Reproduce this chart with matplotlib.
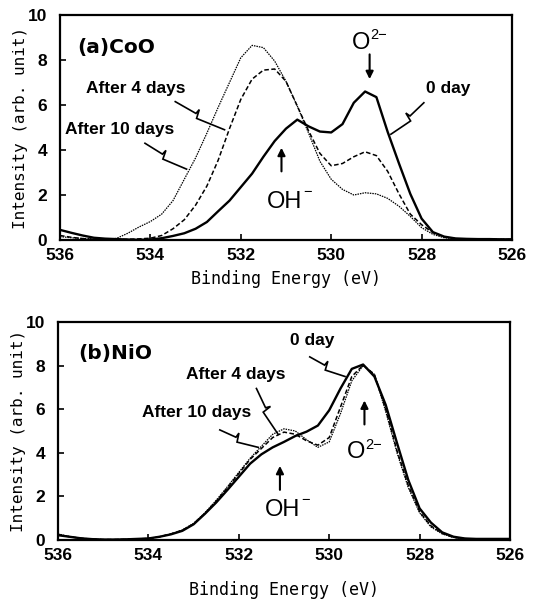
import matplotlib
matplotlib.use("Agg")
import matplotlib.pyplot as plt
import numpy as np
from matplotlib.font_manager import FontProperties

# binding energy grid (eV), shared by every curve
energy = [536.0, 535.75, 535.5, 535.25, 535.0, 534.75, 534.5, 534.25, 534.0, 533.75,
          533.5, 533.25, 533.0, 532.75, 532.5, 532.25, 532.0, 531.75, 531.5, 531.25,
          531.0, 530.75, 530.5, 530.25, 530.0, 529.75, 529.5, 529.25, 529.0, 528.75,
          528.5, 528.25, 528.0, 527.75, 527.5, 527.25, 527.0, 526.75, 526.5, 526.25, 526.0]

# (a) CoO
coo_0day = [0.45, 0.32, 0.2, 0.1, 0.06, 0.04, 0.02, 0.01, 0.02, 0.08,
            0.18, 0.3, 0.5, 0.8, 1.28, 1.75, 2.35, 2.95, 3.7, 4.4,
            4.95, 5.35, 5.05, 4.82, 4.78, 5.15, 6.1, 6.6, 6.35, 4.8,
            3.4, 2.05, 0.95, 0.35, 0.15, 0.07, 0.05, 0.04, 0.04, 0.03, 0.03]
coo_4days = [0.2, 0.12, 0.06, 0.03, 0.02, 0.02, 0.03, 0.05, 0.08, 0.2,
             0.5, 0.9, 1.55, 2.4, 3.55, 4.95, 6.25, 7.15, 7.55, 7.6,
             7.05, 5.95, 4.85, 3.85, 3.3, 3.4, 3.7, 3.92, 3.75, 3.05,
             2.05, 1.15, 0.68, 0.33, 0.14, 0.06, 0.04, 0.03, 0.03, 0.03, 0.03]
coo_10days = [0.15, 0.1, 0.07, 0.05, 0.04, 0.07, 0.3, 0.58, 0.82, 1.15,
              1.75, 2.7, 3.65, 4.75, 5.9, 7.0, 8.1, 8.65, 8.55, 7.95,
              7.05, 5.95, 4.75, 3.5, 2.7, 2.25, 2.0, 2.1, 2.05, 1.85,
              1.5, 1.05, 0.55, 0.25, 0.1, 0.05, 0.03, 0.03, 0.03, 0.03, 0.03]

# (b) NiO
nio_0day = [0.22, 0.15, 0.08, 0.04, 0.02, 0.02, 0.03, 0.05, 0.07, 0.15,
            0.26, 0.42, 0.72, 1.2, 1.72, 2.3, 2.9, 3.5, 3.93, 4.25,
            4.5, 4.77, 4.97, 5.25, 5.95, 6.95, 7.85, 8.05, 7.5, 6.2,
            4.45, 2.75, 1.45, 0.8, 0.35, 0.15, 0.07, 0.05, 0.05, 0.05, 0.05]
nio_4days = [0.25, 0.15, 0.08, 0.04, 0.02, 0.02, 0.03, 0.05, 0.07, 0.15,
             0.28, 0.45, 0.74, 1.22, 1.78, 2.4, 3.05, 3.7, 4.2, 4.7,
             4.95, 4.85, 4.55, 4.35, 4.7, 6.1, 7.5, 8.02, 7.6, 6.0,
             4.1, 2.5, 1.3, 0.65, 0.3, 0.12, 0.06, 0.05, 0.05, 0.05, 0.05]
nio_10days = [0.28, 0.16, 0.08, 0.04, 0.02, 0.02, 0.03, 0.05, 0.07, 0.15,
              0.28, 0.46, 0.76, 1.25, 1.82, 2.45, 3.1, 3.75, 4.3, 4.85,
              5.1, 5.0, 4.6, 4.25, 4.5, 5.8, 7.3, 8.0, 7.6, 5.9,
              4.0, 2.4, 1.25, 0.6, 0.28, 0.12, 0.06, 0.05, 0.05, 0.05, 0.05]

xticks = [536, 534, 532, 530, 528, 526]
yticks = [0, 2, 4, 6, 8, 10]

SANS = ["Liberation Sans", "DejaVu Sans"]
MONO = ["DejaVu Sans Mono"]

fig = plt.figure(figsize=(5.45, 6.02), dpi=100)
W, H = 545.0, 602.0


def px_axes(left, top, right, bottom):
    # axes placed by pixel box of the picture
    return fig.add_axes([left / W, 1 - bottom / H, (right - left) / W, (bottom - top) / H])


def style_axes(ax, xlabelpad):
    ax.set_xlim(536, 526)
    ax.set_ylim(0, 10)
    ax.set_xticks(xticks)
    ax.set_yticks(yticks)
    for s in ax.spines.values():
        s.set_linewidth(1.6)
    ax.tick_params(direction="in", length=4, width=1.2)
    ax.tick_params(axis="x", pad=6)
    ax.tick_params(axis="y", pad=9)
    fp = FontProperties(family=SANS, weight="bold", size=12.5)
    for lab in ax.get_xticklabels() + ax.get_yticklabels():
        lab.set_fontproperties(fp)
    ax.set_xlabel("Binding Energy (eV)", family=MONO, fontsize=12, labelpad=xlabelpad)
    ax.set_ylabel("Intensity (arb. unit)", family=MONO, fontsize=11.5, labelpad=0)


def draw_curves(ax, day0, day4, day10):
    ax.plot(energy, day10, color="k", lw=0.9, ls=(0, (1.2, 0.8)))
    ax.plot(energy, day4, color="k", lw=1.1, ls=(0, (3, 1.6)))
    ax.plot(energy, day0, color="k", lw=1.7)


def leader(ax, start, end, frac=0.42):
    # hand drawn pointer from a label to its curve, with a small zig on the way
    t = ax.transData
    p0 = t.transform(start)
    p4 = t.transform(end)
    d = p4 - p0
    u = d / np.hypot(*d)
    n = np.array([-u[1], u[0]])
    if n[1] < 0:
        n = -n
    p1 = p0 + frac * d
    p2 = p1 + 1.0 * u + 5 * n
    p3 = p1 + 3.0 * u - 4 * n
    pts = t.inverted().transform(np.array([p0, p1, p2, p3, p4]))
    ax.plot(pts[:, 0], pts[:, 1], color="k", lw=1.2, solid_joinstyle="miter")


def arrow(ax, x, y_from, y_to):
    ax.annotate("", xy=(x, y_to), xytext=(x, y_from),
                arrowprops=dict(arrowstyle="-|>", color="k", lw=1.5,
                                mutation_scale=11, shrinkA=0, shrinkB=0))


def ion_label(ax, x, y, main, sup, size, sup_dx, sup_dy):
    ax.text(x, y, main, family=SANS, fontsize=size, ha="left", va="baseline")
    ax.annotate(sup, xy=(x, y), xytext=(sup_dx, sup_dy), textcoords="offset points",
                family=SANS, fontsize=size * 0.62, ha="left", va="baseline")


bold = dict(family=SANS, fontweight="bold", fontsize=12.5)

# ---- (a) CoO
ax1 = px_axes(60, 15, 512, 240)
draw_curves(ax1, coo_0day, coo_4days, coo_10days)
style_axes(ax1, xlabelpad=5)
ax1.text(535.62, 8.3, "(a)CoO", family=["DejaVu Sans"], fontweight="bold", fontsize=14.5)
ax1.text(535.42, 6.55, "After 4 days", **bold)
ax1.text(535.9, 4.72, "After 10 days", **bold)
ax1.text(527.9, 6.55, "0 day", **bold)
leader(ax1, (533.45, 6.15), (532.36, 4.9))
leader(ax1, (534.12, 4.3), (533.2, 3.15))
leader(ax1, (527.95, 6.1), (528.68, 4.7))
ion_label(ax1, 529.55, 8.5, "O", "2\u2212", 17, 13.5, 7)
arrow(ax1, 529.15, 8.25, 7.15)
ion_label(ax1, 531.42, 1.4, "OH", "\u2212", 17, 26, 9)
arrow(ax1, 531.1, 3.05, 4.1)

# ---- (b) NiO
ax2 = px_axes(58, 322, 510, 540)
draw_curves(ax2, nio_0day, nio_4days, nio_10days)
style_axes(ax2, xlabelpad=13)
ax2.text(535.56, 8.3, "(b)NiO", family=["DejaVu Sans"], fontweight="bold", fontsize=14.5)
ax2.text(530.87, 8.95, "0 day", **bold)
ax2.text(533.16, 7.4, "After 4 days", **bold)
ax2.text(534.15, 5.65, "After 10 days", **bold)
leader(ax2, (530.43, 8.4), (529.65, 7.5))
leader(ax2, (531.61, 6.95), (531.13, 4.85))
leader(ax2, (532.42, 5.05), (531.57, 4.25))
ion_label(ax2, 529.62, 3.75, "O", "2\u2212", 17, 13.5, 7)
arrow(ax2, 529.22, 5.3, 6.4)
ion_label(ax2, 531.42, 1.1, "OH", "\u2212", 17, 26, 9)
arrow(ax2, 531.09, 2.3, 3.4)

fig.savefig("out.png", dpi=100)
